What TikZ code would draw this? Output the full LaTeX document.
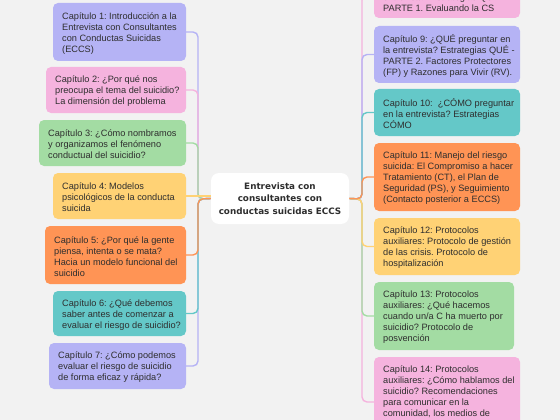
\documentclass[tikz,border=0pt]{standalone}
\usepackage{fontspec}
\setmainfont{Liberation Sans}
\newfontfamily\hubfont{DejaVu Sans}
\usetikzlibrary{calc}
\frenchspacing
\definecolor{bgc}{HTML}{F2F2F2}
\definecolor{txt}{HTML}{2E2E2E}
\definecolor{cpur}{HTML}{B5B3F5}
\definecolor{cpink}{HTML}{F5B3DE}
\definecolor{cgreen}{HTML}{A3DCA3}
\definecolor{cyel}{HTML}{FFD275}
\definecolor{corg}{HTML}{FF9455}
\definecolor{cteal}{HTML}{64C8C8}
\pgfdeclarelayer{bglayer}
\pgfdeclarelayer{lines}
\pgfsetlayers{bglayer,lines,main}
\newcommand\chapbox[7]{%
  \pgfmathsetmacro\cbw{#4-#2}\pgfmathsetmacro\cbh{#5-#3}%
  \pgfmathsetmacro\cbx{(#2+#4)/2}\pgfmathsetmacro\cby{(#3+#5)/2}\pgfmathsetmacro\cbl{#2+9}%
  \node[boxs, fill=#6, minimum width=\cbw pt, minimum height=\cbh pt] (#1) at (\cbx,\cby) {};
  \node[chap, anchor=west, yshift=-1.3pt] (#1t) at (\cbl,\cby) {#7};}
\begin{document}
\begin{tikzpicture}[x=1pt,y=-1pt,
  conn/.style={line width=1.4pt, rounded corners=5pt},
  boxs/.style={rounded corners=5pt, inner sep=0pt},
  chap/.style={inner sep=0pt, align=left, text=txt, font=\fontsize{9.2}{11}\selectfont},
  hub/.style={fill=white, rounded corners=8pt, align=center, text=txt, inner sep=0pt, minimum width=138pt, minimum height=51pt, font=\hubfont\bfseries\fontsize{8.8}{12.5}\selectfont}]
\useasboundingbox (0,0) rectangle (560,420);
\begin{pgfonlayer}{bglayer}
\fill[bgc] (0,0) rectangle (560,420);
\end{pgfonlayer}
\clip (0,0) rectangle (560,420);
% center
\node[hub] (c) at (280,198.5) {Entrevista con\\consultantes con\\conductas suicidas ECCS};
\coordinate (lj) at (198,199);
\coordinate (rj) at (362,199);
% left boxes
\chapbox{l1}{53}{3}{186}{61}{cpur}{Capítulo 1: Introducción a la\\Entrevista con Consultantes\\con Conductas Suicidas\\(ECCS)}
\chapbox{l2}{46}{67}{186}{113}{cpink}{Capítulo 2: ¿Por qué nos\\preocupa el tema del suicidio?\\La dimensión del problema}
\chapbox{l3}{39}{120}{186}{166}{cgreen}{Capítulo 3: ¿Cómo nombramos\\y organizamos el fenómeno\\conductual del suicidio?}
\chapbox{l4}{53}{173}{186}{219}{cyel}{Capítulo 4: Modelos\\psicológicos de la conducta\\suicida}
\chapbox{l5}{45}{226}{186}{284}{corg}{Capítulo 5: ¿Por qué la gente\\piensa, intenta o se mata?\\Hacia un modelo funcional del\\suicidio}
\chapbox{l6}{53}{291}{186}{336}{cteal}{Capítulo 6: ¿Qué debemos\\saber antes de comenzar a\\evaluar el riesgo de suicidio?}
\chapbox{l7}{49}{343}{186}{389}{cpur}{Capítulo 7: ¿Cómo podemos\\evaluar el riesgo de suicidio\\de forma eficaz y rápida?}
% right boxes
\chapbox{r8}{374}{-28}{520}{18}{cpink}{Capítulo 8: ¿QUÉ preguntar en la\\entrevista? Estrategias QUÉ -\\PARTE 1. Evaluando la CS}
\chapbox{r9}{374}{26}{520}{83}{cpur}{Capítulo 9: ¿QUÉ preguntar en\\la entrevista? Estrategias QUÉ -\\PARTE 2. Factores Protectores\\(FP) y Razones para Vivir (RV).}
\chapbox{r10}{374}{89}{520}{136}{cteal}{Capítulo 10: \ ¿CÓMO preguntar\\en la entrevista? Estrategias\\CÓMO}
\chapbox{r11}{374}{143}{520}{211}{corg}{Capítulo 11: Manejo del riesgo\\suicida: El Compromiso a hacer\\Tratamiento (CT), el Plan de\\Seguridad (PS), y Seguimiento\\(Contacto posterior a ECCS)}
\chapbox{r12}{374}{218}{520}{275}{cyel}{Capítulo 12: Protocolos\\auxiliares: Protocolo de gestión\\de las crisis. Protocolo de\\hospitalización}
\chapbox{r13}{374}{282}{514}{350}{cgreen}{Capítulo 13: Protocolos\\auxiliares: ¿Qué hacemos\\cuando un/a C ha muerto por\\suicidio? Protocolo de\\posvención}
\node[boxs, fill=cpink, minimum width=146pt, minimum height=90pt] (r14) at (447,402) {};
\node[chap, anchor=north west] (r14t) at (383,365.5) {Capítulo 14: Protocolos\\auxiliares: ¿Cómo hablamos del\\suicidio? Recomendaciones\\para comunicar en la\\comunidad, los medios de};
% connectors
\begin{pgfonlayer}{lines}
\clip (0,0) rectangle (560,420);
\draw[conn, cpur]  (c.west) -- (lj) |- (l1.east);
\draw[conn, cpur]  (c.west) -- (lj) |- (l7.east);
\draw[conn, cpink] (c.west) -- (lj) |- (l2.east);
\draw[conn, cteal] (c.west) -- (lj) |- (l6.east);
\draw[conn, cgreen](c.west) -- (lj) |- (l3.east);
\draw[conn, corg]  (c.west) -- (lj) |- (l5.east);
\draw[conn, cyel]  (l4.east) -- (l4.east -| c.west);
\draw[conn, cpink] (c.east) -- (rj) |- (r8.west);
\draw[conn, cpink] (c.east) -- (rj) |- (r14.west);
\draw[conn, cpur]  (c.east) -- (rj) |- (r9.west);
\draw[conn, cgreen](c.east) -- (rj) |- (r13.west);
\draw[conn, cteal] (c.east) -- (rj) |- (r10.west);
\draw[conn, cyel]  (c.east) -- (rj) |- (r12.west);
\draw[conn, corg]  (c.east) -- (rj) |- (r11.west);
\end{pgfonlayer}
\end{tikzpicture}
\end{document}
